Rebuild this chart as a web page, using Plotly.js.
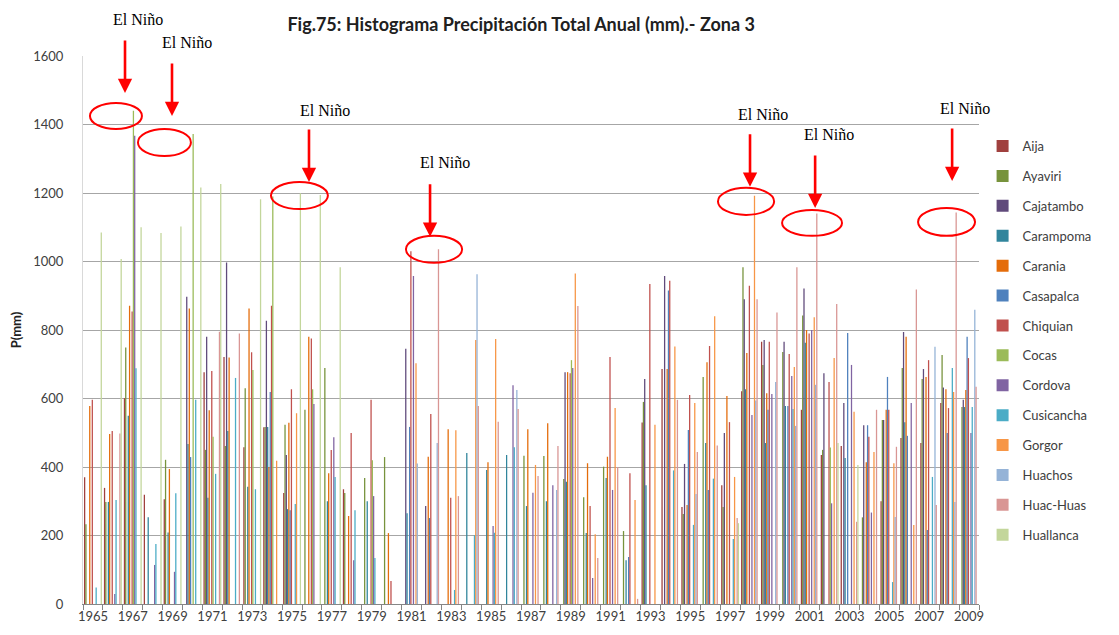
<!DOCTYPE html>
<html>
<head>
<meta charset="utf-8">
<script src="https://cdn.plot.ly/plotly-3.0.1.min.js"></script>
<style>html,body{margin:0;padding:0;background:#fff;}#chart{width:1119px;height:635px;}</style>
</head>
<body>
<div id="chart"></div>
<script>
// Years (categories) 1965..2009
const years = ["1965","1966","1967","1968","1969","1970","1971","1972","1973","1974","1975","1976","1977","1978","1979","1980","1981","1982","1983","1984","1985","1986","1987","1988","1989","1990","1991","1992","1993","1994","1995","1996","1997","1998","1999","2000","2001","2002","2003","2004","2005","2006","2007","2008","2009"];
const stations = ["Aija","Ayaviri","Cajatambo","Carampoma","Carania","Casapalca","Chiquian","Cocas","Cordova","Cusicancha","Gorgor","Huachos","Huac-Huas","Huallanca"];
const n = null;
// Annual total precipitation (mm) per station, 1965..2009
const aija       = [370,339,601,319,306,n,677,721,458,516,324,n,n,335,n,n,n,n,n,n,n,n,n,n,n,n,n,n,530,686,283,n,347,621,766,n,567,435,461,n,300,485,470,587,n];
const ayaviri    = [233,298,749,n,421,n,450,461,630,517,523,567,689,324,368,429,n,n,n,n,n,n,433,432,365,312,401,213,590,n,263,663,283,983,698,736,842,450,n,253,537,689,657,727,575];
const cajatambo  = [n,n,n,n,n,897,780,997,n,827,435,n,n,n,n,n,745,286,n,n,n,n,n,n,677,n,n,n,657,958,409,n,499,890,771,766,921,674,587,522,537,794,686,632,596];
const carampoma  = [n,298,550,253,209,467,310,505,342,517,277,n,300,n,300,n,265,n,n,441,391,435,286,300,357,207,368,128,347,n,n,470,n,627,470,578,763,n,426,n,n,531,n,n,575];
const carania    = [578,496,871,n,394,863,566,720,863,400,529,780,382,257,n,207,n,430,510,n,414,n,510,528,677,411,430,n,n,686,289,706,607,733,615,n,800,n,n,414,567,780,663,627,625];
const casapalca  = [n,n,n,n,n,429,n,n,n,619,274,n,n,n,n,n,517,251,n,n,n,n,n,n,n,n,n,137,n,915,508,333,n,n,567,578,n,n,791,522,663,491,216,499,780];
const chiquian   = [596,505,854,n,n,n,680,n,735,871,627,775,450,499,596,67,1030,555,310,n,n,n,n,n,674,286,721,382,934,944,610,753,531,929,766,730,790,648,n,488,567,n,712,572,718];
const cocas      = [n,n,1440,n,n,1372,488,n,683,1190,n,627,n,n,420,n,n,n,n,n,n,n,n,n,712,n,n,n,n,n,n,n,n,n,n,n,n,457,n,n,n,n,n,n,n];
const cordova    = [n,29,1367,114,94,n,n,n,n,n,n,584,487,128,315,n,958,n,n,n,228,639,325,347,689,76,333,n,n,n,n,n,n,552,613,666,800,294,698,267,n,587,n,n,499];
const cusicancha = [48,304,688,175,323,596,380,660,335,n,292,n,371,274,134,n,n,n,41,201,208,458,n,n,n,n,n,n,n,390,231,366,190,n,n,569,n,n,n,n,64,n,371,689,575];
const gorgor     = [n,n,n,n,n,n,n,n,n,418,557,n,n,n,n,n,703,n,507,771,774,n,406,n,965,204,572,304,523,752,587,840,371,1192,n,692,837,718,561,444,411,231,n,619,n];
const huachos    = [n,n,n,n,n,n,n,n,n,n,n,n,n,n,n,n,410,470,n,963,n,625,n,333,n,n,n,n,n,n,321,n,n,594,648,520,640,n,n,n,254,n,751,298,859];
const huachuas   = [n,498,n,n,n,n,795,790,n,n,n,n,n,n,n,n,n,1036,315,578,532,569,374,461,870,134,400,15,n,596,444,463,251,890,851,983,1140,876,240,567,459,918,289,1143,634];
const huallanca  = [1085,1007,1100,1083,1102,1216,1226,n,1182,n,1199,1194,983,n,n,n,n,n,n,n,n,n,n,n,n,n,n,n,n,n,n,n,236,n,n,n,n,470,406,n,n,n,n,n,n];

const seriesValues = [aija,ayaviri,cajatambo,carampoma,carania,casapalca,chiquian,cocas,cordova,cusicancha,gorgor,huachos,huachuas,huallanca];
const colors = ["#A0403E","#77933C","#604A7B","#31859C","#E46C0A","#4F81BD","#C0504D","#9BBB59","#8064A2","#4BACC6","#F79646","#95B3D7","#D99694","#C3D69B"];

const traces = stations.map((s,k)=>({
  type:'bar', name:s, x:years, y:seriesValues[k],
  marker:{color:colors[k], line:{width:0}},
  legendgroup:s, hoverinfo:'x+y+name'
}));

// El Niño markers: [x (category index), arrow tip value, text x, text paper-y, ellipse x0,x1,y0,y1]
const ninoArrows = [
  [1.61,1492, 2.26,1.066, -0.15,2.46,1387,1463],
  [3.97,1425, 4.74,1.024, 2.26,4.92,1308,1387],
  [10.85,1232, 11.67,0.900, 8.94,11.80,1153,1232],
  [16.93,1072, 17.70,0.805, 15.72,18.54,996,1075],
  [33.00,1218, 33.66,0.894, 31.39,34.21,1136,1215],
  [36.27,1156, 36.97,0.856, 34.61,37.62,1075,1150],
  [43.15,1235, 43.80,0.905, 41.44,44.30,1075,1156]
];
const annotations = [];
const shapes = [];
ninoArrows.forEach(a=>{
  annotations.push({xref:'x',yref:'y',x:a[0],y:a[1],ax:0,ay:-54,text:'',showarrow:true,
    arrowhead:2,arrowsize:1.1,arrowwidth:2.6,arrowcolor:'#FF0000'});
  annotations.push({xref:'x',yref:'paper',x:a[2],y:a[3],text:'El Niño',showarrow:false,
    xanchor:'center',yanchor:'middle',font:{family:'Liberation Serif, Times New Roman, serif',size:16,color:'#000'}});
  shapes.push({type:'circle',xref:'x',yref:'y',x0:a[4],x1:a[5],y0:a[6],y1:a[7],
    line:{color:'#FF0000',width:2},fillcolor:'rgba(0,0,0,0)'});
});

const layout = {
  width:1119,height:635,
  margin:{l:83,r:140,t:56,b:31,pad:0},
  paper_bgcolor:'#fff',plot_bgcolor:'#fff',
  font:{family:'Lato, Liberation Sans, sans-serif',size:13,color:'#404040'},
  title:{text:'<b>Fig.75: Histograma Precipitación Total Anual (mm).- Zona 3</b>',
    font:{family:'Lato, Liberation Sans, sans-serif',size:18,color:'#202020'},
    x:0.489,xref:'paper',xanchor:'center',y:0.961,yref:'container',yanchor:'middle'},
  barmode:'group',bargap:0.1,bargroupgap:0,
  xaxis:{type:'category',range:[-0.5,44.5],tickmode:'array',tickvals:years,
    ticktext:years.map((y,i)=>i%2===0?y:''),tickson:'boundaries',ticks:'outside',ticklen:5,
    tickangle:0,tickcolor:'#868686',showline:true,linecolor:'#868686',linewidth:1,showgrid:false,
    tickfont:{size:13,color:'#404040'},automargin:false,fixedrange:true},
  yaxis:{range:[0,1600],dtick:200,tick0:0,showgrid:true,gridcolor:'#A6A6A6',gridwidth:1,
    showline:true,linecolor:'#D9D9D9',zeroline:false,ticks:'',ticklabelstandoff:16,
    tickfont:{size:13,color:'#404040'},automargin:false,
    title:{text:'<b>P(mm)</b>',font:{size:13,color:'#202020'},standoff:8}},
  legend:{x:1.004,xanchor:'left',y:0.863,yanchor:'top',tracegroupgap:10,
    font:{size:13,color:'#404040'},bgcolor:'rgba(0,0,0,0)'},
  annotations:annotations,
  shapes:shapes,
  showlegend:true
};
Plotly.newPlot('chart',traces,layout,{displayModeBar:false,staticPlot:true});
</script>
</body>
</html>
